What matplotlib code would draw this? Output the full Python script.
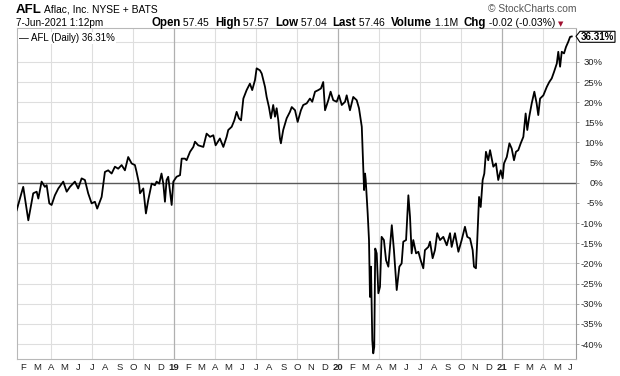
import numpy as np
import matplotlib.pyplot as plt
from matplotlib.patches import Polygon

plt.rcParams['font.family'] = ['Liberation Sans', 'DejaVu Sans']

# --- AFL daily % change (x in decimal years)
years = [
    2018.041, 2018.081, 2018.112, 2018.142, 2018.163, 2018.173, 2018.193, 2018.213, 2018.224, 2018.240,
    2018.254, 2018.274, 2018.295, 2018.325, 2018.346, 2018.366, 2018.396, 2018.416, 2018.437, 2018.457,
    2018.477, 2018.498, 2018.518, 2018.532, 2018.559, 2018.579, 2018.599, 2018.620, 2018.640, 2018.660,
    2018.681, 2018.701, 2018.721, 2018.742, 2018.762, 2018.772, 2018.787, 2018.793, 2018.813, 2018.829,
    2018.843, 2018.864, 2018.884, 2018.894, 2018.910, 2018.924, 2018.935, 2018.945, 2018.955, 2018.965,
    2018.976, 2018.986, 2018.996, 2019.016, 2019.037, 2019.047, 2019.067, 2019.077, 2019.098, 2019.118,
    2019.128, 2019.148, 2019.179, 2019.199, 2019.220, 2019.240, 2019.254, 2019.280, 2019.301, 2019.321,
    2019.331, 2019.352, 2019.368, 2019.382, 2019.396, 2019.409, 2019.423, 2019.443, 2019.463, 2019.477,
    2019.494, 2019.504, 2019.524, 2019.535, 2019.545, 2019.555, 2019.565, 2019.579, 2019.591, 2019.605,
    2019.616, 2019.626, 2019.636, 2019.646, 2019.652, 2019.666, 2019.687, 2019.707, 2019.718, 2019.738,
    2019.754, 2019.774, 2019.788, 2019.809, 2019.829, 2019.843, 2019.860, 2019.880, 2019.896, 2019.910,
    2019.921, 2019.941, 2019.955, 2019.971, 2019.992, 2020.006, 2020.023, 2020.043, 2020.053, 2020.073,
    2020.093, 2020.114, 2020.128, 2020.145, 2020.154, 2020.159, 2020.165, 2020.169, 2020.181, 2020.189,
    2020.195, 2020.201, 2020.209, 2020.215, 2020.221, 2020.227, 2020.236, 2020.246, 2020.256, 2020.266,
    2020.280, 2020.293, 2020.307, 2020.328, 2020.341, 2020.358, 2020.374, 2020.388, 2020.398, 2020.415,
    2020.429, 2020.439, 2020.449, 2020.459, 2020.476, 2020.490, 2020.504, 2020.520, 2020.530, 2020.551,
    2020.561, 2020.577, 2020.591, 2020.605, 2020.622, 2020.642, 2020.663, 2020.683, 2020.693, 2020.713,
    2020.734, 2020.754, 2020.774, 2020.788, 2020.805, 2020.821, 2020.829, 2020.841, 2020.849, 2020.860,
    2020.870, 2020.882, 2020.892, 2020.902, 2020.916, 2020.927, 2020.947, 2020.963, 2020.977, 2020.992,
    2021.004, 2021.012, 2021.029, 2021.045, 2021.059, 2021.073, 2021.085, 2021.099, 2021.114, 2021.130,
    2021.144, 2021.154, 2021.166, 2021.181, 2021.197, 2021.211, 2021.221, 2021.232, 2021.252, 2021.273,
    2021.288, 2021.303, 2021.317, 2021.334, 2021.343, 2021.354, 2021.364, 2021.378, 2021.390, 2021.404,
    2021.415, 2021.425,
]
pct = [
    -6.8, -1.0, -9.3, -2.6, -2.2, -3.9, 0.3, -1.0, -0.6, -5.1,
    -5.5, -3.1, -1.4, 0.3, -2.2, -1.0, 0.3, -1.4, 1.1, 0.7,
    -2.6, -5.1, -4.7, -6.4, -3.5, 2.7, 3.1, 2.3, 4.0, 3.5,
    4.4, 3.1, 6.4, 4.8, 4.4, 2.7, -0.2, -2.6, -1.4, -7.6,
    -4.3, -0.2, -0.6, 0.3, -0.2, 2.3, -0.2, -4.7, 0.7, 1.5,
    -2.2, -5.5, 0.3, 1.5, 1.9, 6.0, 6.0, 5.6, 7.7, 8.9,
    10.2, 9.3, 8.9, 12.2, 11.4, 11.8, 9.3, 11.0, 8.9, 11.4,
    13.1, 13.9, 15.5, 17.6, 16.0, 15.5, 20.9, 23.0, 24.6, 23.0,
    25.5, 28.4, 27.9, 27.1, 25.5, 23.8, 21.3, 18.8, 16.0, 19.3,
    16.4, 18.5, 15.5, 11.0, 9.8, 13.1, 16.0, 17.6, 18.8, 18.0,
    15.1, 18.0, 19.3, 19.7, 20.9, 20.1, 22.6, 23.0, 23.4, 25.0,
    18.0, 20.5, 22.6, 20.5, 20.1, 21.7, 19.3, 20.1, 21.7, 18.0,
    21.3, 20.5, 18.5, 13.9, 4.0, -1.8, 2.3, 0.7, -7.6, -14.2,
    -28.3, -20.8, -39.0, -42.3, -40.7, -16.3, -17.5, -27.4, -25.8, -13.4,
    -14.2, -19.2, -20.8, -10.5, -16.7, -26.6, -20.8, -20.0, -14.6, -14.2,
    -3.1, -8.4, -17.5, -14.2, -17.5, -17.1, -19.2, -21.2, -16.7, -15.9,
    -14.6, -18.7, -16.7, -12.5, -14.2, -13.4, -15.5, -12.5, -15.9, -12.5,
    -17.1, -14.2, -10.9, -13.4, -13.8, -16.7, -20.8, -21.2, -14.2, -3.5,
    -6.0, 0.7, 2.3, 7.7, 5.6, 8.1, 4.0, 4.8, 0.7, 3.1,
    1.1, 4.8, 6.4, 9.8, 8.5, 5.6, 7.7, 8.1, 9.8, 11.4,
    17.2, 13.1, 16.4, 19.7, 22.6, 19.7, 16.8, 20.9, 21.7, 23.8,
    25.0, 25.9, 27.5, 29.6, 32.5, 28.8, 32.5, 32.1, 33.7, 35.0,
    36.2, 36.3,
]
last_pct = '36.31%'
y_ticks = list(range(-40, 31, 5))
month_letters = ['J', 'F', 'M', 'A', 'M', 'J', 'J', 'A', 'S', 'O', 'N', 'D']
first_month = (2018, 2)
last_month = (2021, 6)

W, H = 620, 376
fig = plt.figure(figsize=(W / 100, H / 100), dpi=100)
ax = fig.add_axes([16.5 / W, (H - 359) / H, (576 - 16.5) / W, (359 - 28) / H])

# --- month ticks
tick_pos, tick_lab = [], []
y, m = first_month
while (y, m) <= last_month:
    tick_pos.append(y + (m - 1) / 12)
    tick_lab.append(str(y)[2:] if m == 1 else month_letters[m - 1])
    m += 1
    if m > 12:
        y, m = y + 1, 1

# --- grid
for v in y_ticks + [35]:
    ax.axhline(v, color='#dedede', lw=0.8, zorder=0)
for t in tick_pos:
    mon = round((t % 1) * 12) + 1
    if mon == 1:
        ax.axvline(t, color='#b0b0b0', lw=0.9, zorder=0)
    elif mon in (4, 7, 10):
        ax.axvline(t, color='#dedede', lw=0.8, zorder=0)
ax.axhline(0, color='#5a5a5a', lw=1.0, zorder=1)

ax.plot(years, pct, color='black', lw=1.3, zorder=3)

ax.set_xlim(2018.040, 2021.451)
ax.set_ylim(-43.7, 38.4)

ax.set_xticks(tick_pos)
ax.set_xticklabels(tick_lab)
for lab, txt in zip(ax.get_xticklabels(), tick_lab):
    if txt.isdigit():
        lab.set_fontweight('bold')
        lab.set_fontsize(8)
ax.tick_params(axis='x', length=0, pad=3, labelsize=6.8, colors='#222222')

ax.yaxis.tick_right()
ax.set_yticks(y_ticks)
ax.set_yticklabels([f'{v}%' for v in y_ticks])
ax.tick_params(axis='y', length=2, width=0.6, color='#999999', pad=17.5, labelsize=6.8,
               labelcolor='#222222')
for lab in ax.get_yticklabels():
    lab.set_horizontalalignment('right')

for s in ('left', 'top', 'bottom'):
    ax.spines[s].set_color('#b8b8b8')
    ax.spines[s].set_linewidth(0.8)
ax.spines['right'].set_color('#999999')
ax.spines['right'].set_linestyle((0, (1, 1)))
ax.spines['right'].set_linewidth(0.8)

# --- legend in plot
ax.text(0.005, 0.985, '\u2014 AFL (Daily) ' + last_pct, transform=ax.transAxes, fontsize=7,
        va='top', ha='left', zorder=5,
        bbox=dict(facecolor='white', edgecolor='none', pad=0.8))

# --- last value marker box
yb = 36.3
pts = [(576, yb), (580, yb - 5), (615, yb - 5), (615, yb + 6), (580, yb + 6)]
ax.add_patch(Polygon([(x / W, 1 - y / H) for x, y in pts], closed=True, transform=fig.transFigure,
                     facecolor='white', edgecolor='black', lw=0.8, zorder=10, clip_on=False))
fig.text(597.5 / W, 1 - 36.8 / H, last_pct, ha='center', va='center', fontsize=7,
         fontweight='bold', zorder=11)

# --- header
fig.text(16 / W, 1 - 13 / H, 'AFL', fontsize=9.5, fontweight='bold', va='baseline')
fig.text(44 / W, 1 - 13 / H, 'Aflac, Inc. NYSE + BATS', fontsize=7.4, va='baseline')
fig.text(16 / W, 1 - 26 / H, '7-Jun-2021 1:12pm', fontsize=7.2, va='baseline')
fig.text(576 / W, 1 - 12 / H, '\u00a9 StockCharts.com', fontsize=7.4, va='baseline', ha='right',
         color='#555555')

header_parts = [('Open', 'bold'), (' 57.45  ', 'normal'), ('High', 'bold'), (' 57.57  ', 'normal'),
                ('Low', 'bold'), (' 57.04  ', 'normal'), ('Last', 'bold'), (' 57.46  ', 'normal'),
                ('Volume', 'bold'), (' 1.1M  ', 'normal'), ('Chg', 'bold'), (' -0.02 (-0.03%) ', 'normal')]
renderer = fig.canvas.get_renderer()
x = 151
for txt, wt in header_parts:
    t = fig.text(x / W, 1 - 26 / H, txt, fontsize=8.3 if wt == 'bold' else 7.5, fontweight=wt,
                 va='baseline')
    x += t.get_window_extent(renderer).width
fig.text(x / W, 1 - 26 / H, '\u25bc', fontsize=5, color='#a01030', va='baseline',
         family=['DejaVu Sans'])

fig.savefig('out.png', dpi=100)
